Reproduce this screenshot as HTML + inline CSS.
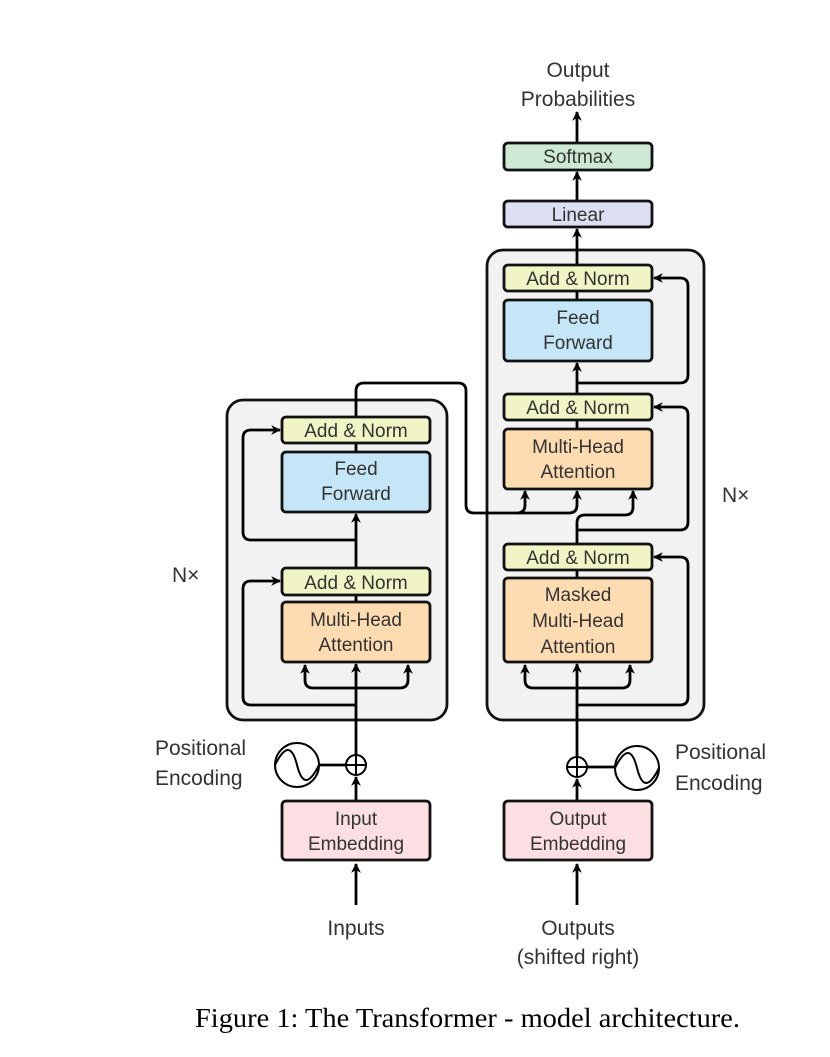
<!DOCTYPE html>
<html><head><meta charset="utf-8"><style>
html,body{margin:0;padding:0;background:#fff;}
svg{display:block}
text{font-family:"Liberation Sans",sans-serif;fill:#333;}
</style></head><body>
<svg width="830" height="1057" viewBox="0 0 830 1057" xmlns="http://www.w3.org/2000/svg">
<defs>
<marker id="a" viewBox="0 0 10 10" refX="9" refY="5" markerWidth="3.5" markerHeight="3.5" orient="auto-start-reverse">
<path d="M0,0 L10,5 L0,10 L3,5 z" fill="#000"/></marker>
</defs>
<rect x="227" y="400" width="220" height="320" rx="16" fill="#f2f2f2" stroke="#111" stroke-width="2.8"/>
<rect x="487" y="250" width="217" height="470" rx="16" fill="#f2f2f2" stroke="#111" stroke-width="2.8"/>

<g fill="none" stroke="#000" stroke-width="2.8">
<path d="M356,905 V864" marker-end="url(#a)"/>
<path d="M356,801 V777" marker-end="url(#a)"/>
<path d="M356,755 V664" marker-end="url(#a)"/>
<path d="M356,688 H313 Q305,688 305,680 V665" marker-end="url(#a)"/>
<path d="M356,688 H400 Q408,688 408,680 V665" marker-end="url(#a)"/>
<path d="M356,705 H251 Q243,705 243,697 V589 Q243,581 251,581 H280" marker-end="url(#a)"/>
<path d="M356,595 V602"/>
<path d="M356,568 V514" marker-end="url(#a)"/>
<path d="M356,540 H251 Q243,540 243,532 V438 Q243,430 251,430 H280" marker-end="url(#a)"/>
<path d="M356,443 V452"/>
<path d="M356,417 V391 Q356,383 364,383 H458 Q466,383 466,391 V505 Q466,513 474,513 H517 Q525,513 525,505 V491" marker-end="url(#a)"/>
<path d="M517,513 H569 Q577,513 577,505 V491" marker-end="url(#a)"/>
<path d="M577,905 V864" marker-end="url(#a)"/>
<path d="M577,801 V779" marker-end="url(#a)"/>
<path d="M577,757 V664" marker-end="url(#a)"/>
<path d="M577,688 H533 Q525,688 525,680 V665" marker-end="url(#a)"/>
<path d="M577,688 H622 Q630,688 630,680 V665" marker-end="url(#a)"/>
<path d="M577,705 H680 Q688,705 688,697 V565 Q688,557 680,557 H654" marker-end="url(#a)"/>
<path d="M577,570 V578"/>
<path d="M577,544 V523 Q577,515 585,515 H625 Q633,515 633,507 V491" marker-end="url(#a)"/>
<path d="M577,530 H680 Q688,530 688,522 V415 Q688,407 680,407 H654" marker-end="url(#a)"/>
<path d="M577,420 V429"/>
<path d="M577,394 V363" marker-end="url(#a)"/>
<path d="M577,383 H680 Q688,383 688,375 V286 Q688,278 680,278 H654" marker-end="url(#a)"/>
<path d="M577,291 V300"/>
<path d="M577,265 V229" marker-end="url(#a)"/>
<path d="M577,201 V172" marker-end="url(#a)"/>
<path d="M577,143 V112" marker-end="url(#a)"/>
<path d="M319,765 H346"/>
<path d="M587,767 H615"/>
</g>

<g stroke="#111" stroke-width="2.8">
<rect x="282" y="417" width="148" height="26" rx="4" fill="#f1f4c4"/>
<rect x="282" y="452" width="148" height="60" rx="4" fill="#c4e6f6"/>
<rect x="282" y="568" width="148" height="27" rx="4" fill="#f1f4c4"/>
<rect x="282" y="602" width="148" height="60" rx="4" fill="#fddcb2"/>
<rect x="282" y="801" width="148" height="59" rx="4" fill="#fbdfe2"/>
<rect x="504" y="265" width="148" height="26" rx="4" fill="#f1f4c4"/>
<rect x="504" y="300" width="148" height="61" rx="4" fill="#c4e6f6"/>
<rect x="504" y="394" width="148" height="26" rx="4" fill="#f1f4c4"/>
<rect x="504" y="429" width="148" height="60" rx="4" fill="#fddcb2"/>
<rect x="504" y="544" width="148" height="26" rx="4" fill="#f1f4c4"/>
<rect x="504" y="578" width="148" height="84" rx="4" fill="#fddcb2"/>
<rect x="504" y="801" width="148" height="59" rx="4" fill="#fbdfe2"/>
<rect x="504" y="201" width="148" height="26" rx="4" fill="#dcdef2"/>
<rect x="504" y="143" width="148" height="27" rx="4" fill="#cde9d3"/>
</g>
<g fill="#fff" stroke="#000" stroke-width="2">
<circle cx="356" cy="765" r="10"/><path d="M346,765 H366 M356,755 V775" fill="none"/>
<circle cx="577" cy="767" r="10"/><path d="M567,767 H587 M577,757 V777" fill="none"/>
<circle cx="297" cy="765" r="22"/>
<path d="M275,765 C285,745 292,745 297,765 C302,785 309,785 319,765" fill="none"/>
<circle cx="637" cy="768" r="22"/>
<path d="M615,768 C625,748 632,748 637,768 C642,788 649,788 659,768" fill="none"/>
</g>

<g font-size="19" text-anchor="middle">
<text x="356" y="437">Add &amp; Norm</text>
<text x="356" y="475">Feed</text><text x="356" y="500">Forward</text>
<text x="356" y="589">Add &amp; Norm</text>
<text x="356" y="626">Multi-Head</text><text x="356" y="651">Attention</text>
<text x="356" y="825">Input</text><text x="356" y="850">Embedding</text>
<text x="578" y="285">Add &amp; Norm</text>
<text x="578" y="324">Feed</text><text x="578" y="349">Forward</text>
<text x="578" y="414">Add &amp; Norm</text>
<text x="578" y="453">Multi-Head</text><text x="578" y="478">Attention</text>
<text x="578" y="564">Add &amp; Norm</text>
<text x="578" y="601">Masked</text><text x="578" y="627">Multi-Head</text><text x="578" y="653">Attention</text>
<text x="578" y="825">Output</text><text x="578" y="850">Embedding</text>
<text x="578" y="221">Linear</text>
<text x="578" y="163">Softmax</text>
</g>
<g font-size="21" text-anchor="middle">
<text x="578" y="77">Output</text><text x="578" y="106">Probabilities</text>
<text x="356" y="935">Inputs</text>
<text x="578" y="935">Outputs</text><text x="578" y="964">(shifted right)</text>
</g>
<g font-size="21">
<text x="155" y="755">Positional</text><text x="155" y="785">Encoding</text>
<text x="675" y="759">Positional</text><text x="675" y="790">Encoding</text>
<text x="172" y="582">N×</text>
<text x="722" y="502">N×</text>
</g>
<text x="195" y="1027" textLength="545" lengthAdjust="spacingAndGlyphs" font-size="27" style="font-family:'Liberation Serif',serif;fill:#000">Figure 1: The Transformer - model architecture.</text>
</svg>
</body></html>
